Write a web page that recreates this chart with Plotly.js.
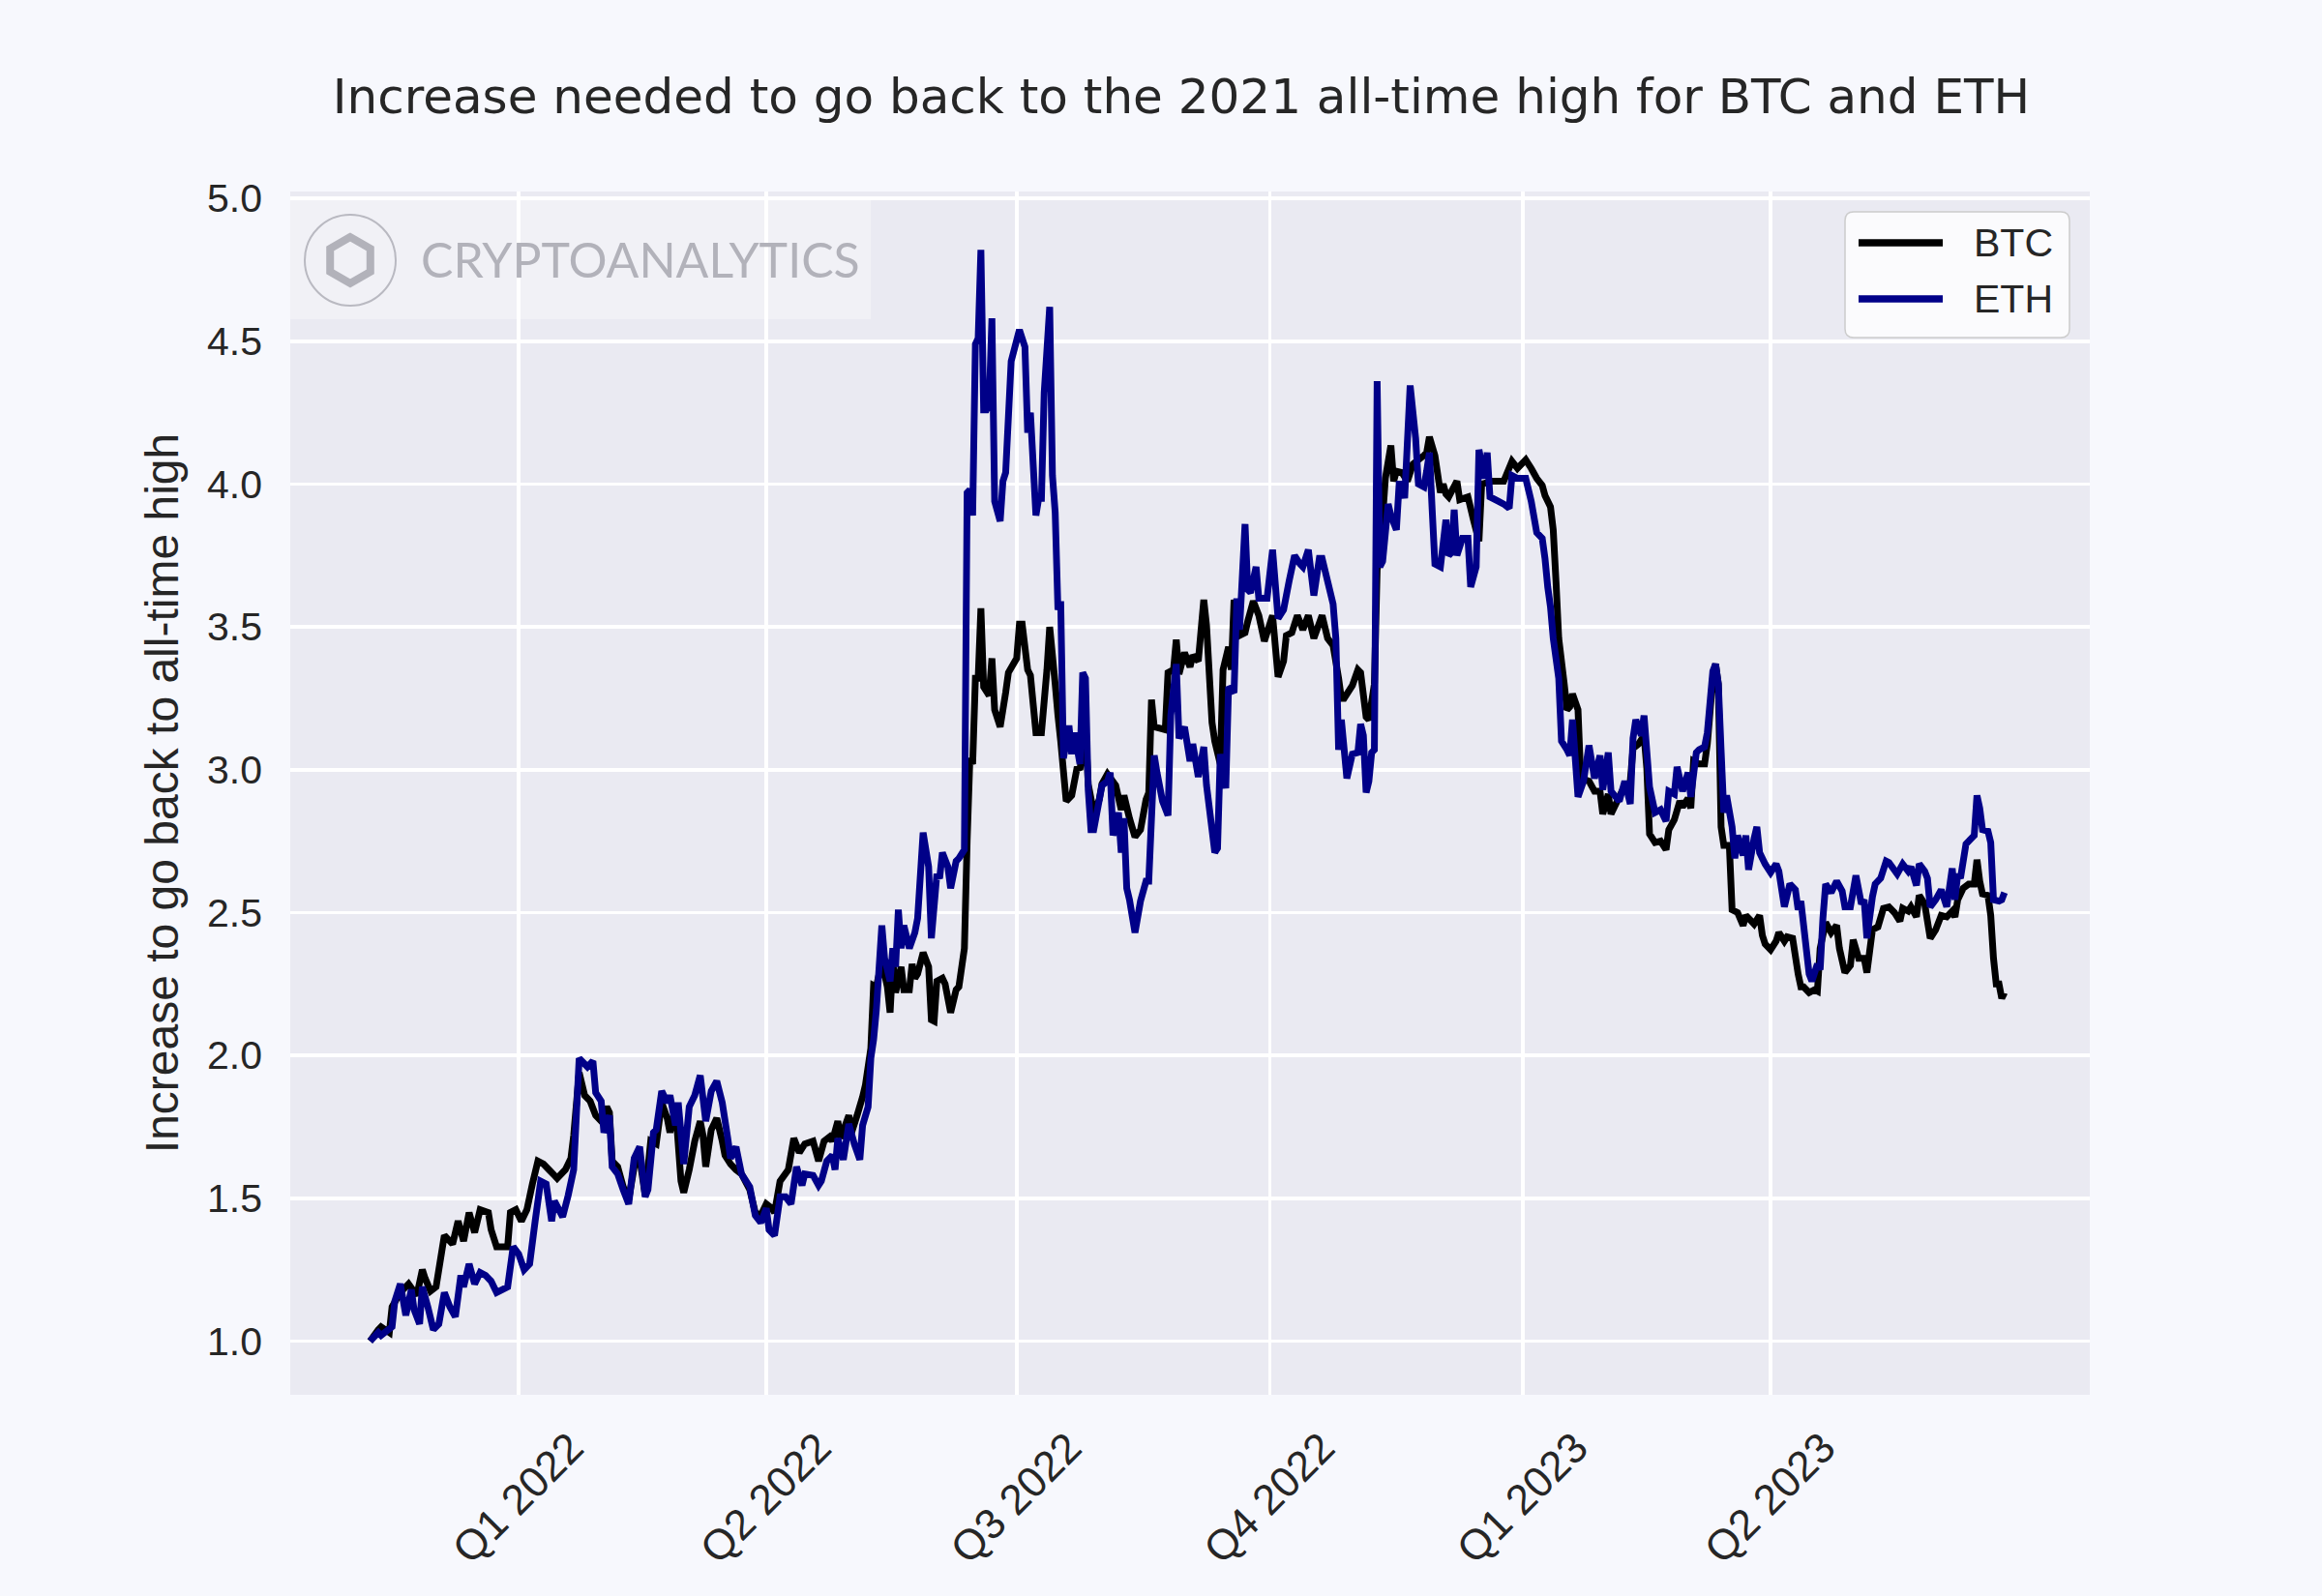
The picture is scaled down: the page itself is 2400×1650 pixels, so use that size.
<!DOCTYPE html>
<html>
<head>
<meta charset="utf-8">
<title>BTC / ETH - increase needed to reach the 2021 ATH</title>
<script src="https://cdn.plot.ly/plotly-3.0.1.min.js"></script>
<style>
    html, body { margin: 0; padding: 0; background: #f7f8fd; }
    #grafico-ath { width: 2400px; height: 1650px; }
</style>
</head>
<body>
<div id="grafico-ath"></div>
<script>
// ============================================
// DATA
// ============================================
const quarterTicks = ['2022-01-01', '2022-04-01', '2022-07-01', '2022-10-01', '2023-01-01', '2023-04-01'];
const quarterLabels = ['Q1 2022', 'Q2 2022', 'Q3 2022', 'Q4 2022', 'Q1 2023', 'Q2 2023'];

const btcDates = [
    '2021-11-08','2021-11-11','2021-11-12','2021-11-15','2021-11-16','2021-11-19','2021-11-22','2021-11-25','2021-11-27','2021-11-28','2021-11-30',
    '2021-12-02','2021-12-05','2021-12-08','2021-12-10','2021-12-12','2021-12-14','2021-12-16','2021-12-18','2021-12-21','2021-12-22','2021-12-24','2021-12-28','2021-12-29','2021-12-31',
    '2022-01-02','2022-01-04','2022-01-06','2022-01-08','2022-01-10','2022-01-12','2022-01-14','2022-01-15','2022-01-18','2022-01-20','2022-01-21','2022-01-23','2022-01-25','2022-01-27','2022-01-29','2022-01-31',
    '2022-02-02','2022-02-03','2022-02-04','2022-02-06','2022-02-08','2022-02-10','2022-02-12','2022-02-14','2022-02-16','2022-02-18','2022-02-20','2022-02-22','2022-02-24','2022-02-25','2022-02-27',
    '2022-03-01','2022-03-02','2022-03-04','2022-03-06','2022-03-08','2022-03-09','2022-03-10','2022-03-12','2022-03-14','2022-03-16','2022-03-17','2022-03-19','2022-03-21','2022-03-23','2022-03-26','2022-03-28','2022-03-30',
    '2022-04-01','2022-04-03','2022-04-04','2022-04-06','2022-04-09','2022-04-11','2022-04-13','2022-04-15','2022-04-18','2022-04-20','2022-04-22','2022-04-24','2022-04-25','2022-04-27','2022-04-28',
    '2022-05-01','2022-05-02','2022-05-04','2022-05-06','2022-05-07','2022-05-09','2022-05-10','2022-05-11','2022-05-13','2022-05-15','2022-05-16','2022-05-17','2022-05-18','2022-05-20','2022-05-21','2022-05-23','2022-05-24','2022-05-25','2022-05-26','2022-05-28','2022-05-30','2022-05-31',
    '2022-06-01','2022-06-02','2022-06-04','2022-06-05','2022-06-07','2022-06-09','2022-06-10','2022-06-12','2022-06-13','2022-06-14','2022-06-15','2022-06-16','2022-06-17','2022-06-18','2022-06-19','2022-06-21','2022-06-22','2022-06-23','2022-06-25','2022-06-27','2022-06-28',
    '2022-07-01','2022-07-02','2022-07-03','2022-07-05','2022-07-06','2022-07-08','2022-07-10','2022-07-12','2022-07-13','2022-07-14','2022-07-15','2022-07-16','2022-07-17','2022-07-19','2022-07-21','2022-07-23','2022-07-24','2022-07-26','2022-07-27','2022-07-29','2022-07-31',
    '2022-08-01','2022-08-03','2022-08-06','2022-08-08','2022-08-09','2022-08-11','2022-08-13','2022-08-15','2022-08-17','2022-08-18','2022-08-19','2022-08-20','2022-08-22','2022-08-24','2022-08-25','2022-08-27','2022-08-28','2022-08-29','2022-08-31',
    '2022-09-02','2022-09-03','2022-09-05','2022-09-07','2022-09-08','2022-09-10','2022-09-11','2022-09-13','2022-09-14','2022-09-16','2022-09-17','2022-09-18','2022-09-20','2022-09-22','2022-09-23','2022-09-25','2022-09-27','2022-09-29',
    '2022-10-02','2022-10-04','2022-10-06','2022-10-07','2022-10-09','2022-10-11','2022-10-13','2022-10-15','2022-10-17','2022-10-20','2022-10-22','2022-10-24','2022-10-26','2022-10-27','2022-10-28','2022-10-31',
    '2022-11-02','2022-11-03','2022-11-05','2022-11-06','2022-11-08','2022-11-09','2022-11-10','2022-11-12','2022-11-14','2022-11-15','2022-11-16','2022-11-18','2022-11-20','2022-11-22','2022-11-26','2022-11-27','2022-11-28','2022-11-30',
    '2022-12-02','2022-12-03','2022-12-04','2022-12-05','2022-12-08','2022-12-09','2022-12-12','2022-12-14','2022-12-16','2022-12-17','2022-12-21','2022-12-25','2022-12-28','2022-12-30',
    '2023-01-02','2023-01-04','2023-01-06','2023-01-08','2023-01-09','2023-01-11','2023-01-12','2023-01-13','2023-01-14','2023-01-16','2023-01-17','2023-01-18','2023-01-19','2023-01-21','2023-01-22','2023-01-25','2023-01-27','2023-01-29','2023-01-30',
    '2023-02-01','2023-02-02','2023-02-04','2023-02-06','2023-02-09','2023-02-10','2023-02-12','2023-02-14','2023-02-15','2023-02-16','2023-02-18','2023-02-20','2023-02-22','2023-02-23','2023-02-25','2023-02-27','2023-02-28',
    '2023-03-02','2023-03-03','2023-03-04','2023-03-06','2023-03-08','2023-03-09','2023-03-11','2023-03-12','2023-03-13','2023-03-14','2023-03-15','2023-03-17','2023-03-18','2023-03-20','2023-03-22','2023-03-23','2023-03-26','2023-03-28','2023-03-29','2023-03-30',
    '2023-04-01','2023-04-03','2023-04-04','2023-04-06','2023-04-07','2023-04-09','2023-04-11','2023-04-12','2023-04-13','2023-04-15','2023-04-17','2023-04-18','2023-04-19','2023-04-21','2023-04-23','2023-04-25','2023-04-26','2023-04-28','2023-04-30',
    '2023-05-01','2023-05-03','2023-05-05','2023-05-06','2023-05-08','2023-05-10','2023-05-12','2023-05-14','2023-05-16','2023-05-18','2023-05-19','2023-05-21','2023-05-22','2023-05-24','2023-05-25','2023-05-27','2023-05-29','2023-05-31',
    '2023-06-02','2023-06-04','2023-06-06','2023-06-07','2023-06-08','2023-06-10','2023-06-12','2023-06-14','2023-06-15','2023-06-16','2023-06-17','2023-06-19','2023-06-20','2023-06-21','2023-06-22','2023-06-23','2023-06-24','2023-06-25'
];
const btcValues = [
    1.00,1.04,1.05,1.03,1.12,1.17,1.20,1.16,1.25,1.22,1.175,
    1.19,1.37,1.34,1.42,1.35,1.45,1.38,1.46,1.45,1.39,1.33,1.33,1.45,1.46,
    1.42,1.46,1.55,1.63,1.62,1.60,1.58,1.57,1.60,1.64,1.72,1.94,1.86,1.84,1.79,1.77,
    1.82,1.80,1.63,1.61,1.54,1.495,1.61,1.64,1.51,1.70,1.69,1.835,1.78,1.73,1.82,
    1.56,1.52,1.60,1.70,1.77,1.72,1.61,1.74,1.78,1.70,1.65,1.62,1.60,1.585,1.53,1.45,1.44,
    1.48,1.465,1.45,1.56,1.60,1.71,1.66,1.69,1.70,1.63,1.70,1.715,1.70,1.77,1.71,
    1.79,1.73,1.79,1.855,1.895,2.025,2.245,2.24,2.33,2.24,2.15,2.33,2.22,2.31,2.23,2.23,2.32,2.27,2.285,2.36,2.31,2.125,
    2.12,2.26,2.27,2.25,2.15,2.23,2.24,2.375,2.75,3.04,3.02,3.32,3.32,3.565,3.29,3.26,3.39,3.21,3.15,3.27,3.34,
    3.39,3.51,3.51,3.35,3.33,3.13,3.13,3.35,3.50,3.40,3.30,3.19,3.10,2.89,2.91,3.01,3.00,3.15,2.95,2.85,2.895,
    2.95,2.985,2.945,2.86,2.91,2.83,2.765,2.79,2.895,2.92,3.245,3.15,3.145,3.14,3.34,3.35,3.455,3.335,3.41,
    3.36,3.40,3.38,3.595,3.505,3.165,3.10,3.02,3.35,3.43,3.35,3.595,3.47,3.48,3.52,3.59,3.54,3.45,
    3.54,3.325,3.38,3.47,3.48,3.54,3.49,3.54,3.46,3.54,3.46,3.435,3.32,3.25,3.25,3.295,
    3.35,3.34,3.185,3.175,3.30,3.70,3.75,4.02,4.135,4.01,4.045,4.04,4.01,4.07,4.10,4.11,4.165,4.10,
    3.97,4.00,3.965,3.955,4.01,3.945,3.955,3.875,3.80,4.00,4.01,4.01,4.08,4.055,
    4.085,4.055,4.02,3.995,3.96,3.92,3.84,3.66,3.46,3.30,3.21,3.22,3.265,3.21,2.97,2.96,2.925,2.925,2.845,
    2.915,2.845,2.885,2.925,2.96,3.075,3.09,3.12,3.005,2.775,2.745,2.75,2.72,2.79,2.825,2.89,2.87,
    2.90,2.865,3.03,3.02,3.02,3.09,3.32,3.37,3.30,2.80,2.735,2.735,2.51,2.50,2.455,2.49,2.46,2.49,2.42,2.39,
    2.37,2.40,2.43,2.40,2.415,2.41,2.285,2.24,2.24,2.22,2.23,2.225,2.375,2.465,2.43,2.455,2.375,2.29,2.315,
    2.405,2.34,2.34,2.29,2.44,2.45,2.515,2.52,2.50,2.47,2.515,2.505,2.52,2.485,2.56,2.53,2.41,2.44,
    2.49,2.485,2.505,2.485,2.545,2.585,2.60,2.60,2.685,2.61,2.565,2.56,2.49,2.34,2.25,2.25,2.20,2.22
];

const ethDates = [
    '2021-11-08','2021-11-11','2021-11-12','2021-11-16','2021-11-17','2021-11-19','2021-11-21','2021-11-23','2021-11-24','2021-11-26','2021-11-27','2021-11-29',
    '2021-12-01','2021-12-03','2021-12-05','2021-12-07','2021-12-09','2021-12-11','2021-12-12','2021-12-14','2021-12-16','2021-12-18','2021-12-20','2021-12-22','2021-12-24','2021-12-26','2021-12-28','2021-12-30',
    '2022-01-01','2022-01-03','2022-01-05','2022-01-07','2022-01-09','2022-01-11','2022-01-13','2022-01-14','2022-01-17','2022-01-19','2022-01-21','2022-01-23','2022-01-25','2022-01-26','2022-01-28','2022-01-29','2022-01-31',
    '2022-02-01','2022-02-03','2022-02-04','2022-02-06','2022-02-08','2022-02-10','2022-02-12','2022-02-14','2022-02-16','2022-02-17','2022-02-19','2022-02-20','2022-02-22','2022-02-24','2022-02-25','2022-02-27','2022-02-28',
    '2022-03-02','2022-03-04','2022-03-06','2022-03-08','2022-03-10','2022-03-12','2022-03-14','2022-03-16','2022-03-18','2022-03-19','2022-03-21','2022-03-23','2022-03-26','2022-03-28','2022-03-30',
    '2022-04-01','2022-04-02','2022-04-04','2022-04-06','2022-04-08','2022-04-10','2022-04-12','2022-04-14','2022-04-15','2022-04-18','2022-04-20','2022-04-21','2022-04-23','2022-04-25','2022-04-26','2022-04-27','2022-04-29',
    '2022-05-01','2022-05-03','2022-05-05','2022-05-06','2022-05-08','2022-05-09','2022-05-10','2022-05-11','2022-05-13','2022-05-14','2022-05-16','2022-05-17','2022-05-18','2022-05-19','2022-05-20','2022-05-21','2022-05-23','2022-05-25','2022-05-26','2022-05-28','2022-05-30','2022-05-31',
    '2022-06-02','2022-06-03','2022-06-04','2022-06-06','2022-06-07','2022-06-09','2022-06-10','2022-06-12','2022-06-13','2022-06-14','2022-06-15','2022-06-16','2022-06-17','2022-06-18','2022-06-19','2022-06-20','2022-06-21','2022-06-22','2022-06-23','2022-06-25','2022-06-26','2022-06-27','2022-06-29',
    '2022-07-02','2022-07-03','2022-07-04','2022-07-05','2022-07-06','2022-07-08','2022-07-09','2022-07-10','2022-07-11','2022-07-13','2022-07-14','2022-07-15','2022-07-16','2022-07-17','2022-07-18','2022-07-20','2022-07-21','2022-07-22','2022-07-24','2022-07-25','2022-07-26','2022-07-27','2022-07-28','2022-07-29',
    '2022-08-01','2022-08-03','2022-08-04','2022-08-05','2022-08-07','2022-08-08','2022-08-09','2022-08-10','2022-08-11','2022-08-13','2022-08-15','2022-08-17','2022-08-18','2022-08-20','2022-08-21','2022-08-23','2022-08-25','2022-08-26','2022-08-28','2022-08-29','2022-08-31',
    '2022-09-02','2022-09-03','2022-09-05','2022-09-07','2022-09-08','2022-09-10','2022-09-11','2022-09-12','2022-09-13','2022-09-15','2022-09-16','2022-09-18','2022-09-19','2022-09-20','2022-09-22','2022-09-23','2022-09-24','2022-09-26','2022-09-27','2022-09-30',
    '2022-10-02','2022-10-04','2022-10-06','2022-10-08','2022-10-10','2022-10-12','2022-10-13','2022-10-15','2022-10-17','2022-10-19','2022-10-20','2022-10-22','2022-10-24','2022-10-25','2022-10-26','2022-10-27','2022-10-29','2022-10-31',
    '2022-11-02','2022-11-03','2022-11-04','2022-11-05','2022-11-06','2022-11-07','2022-11-08','2022-11-09','2022-11-10','2022-11-11','2022-11-13','2022-11-14','2022-11-16','2022-11-17','2022-11-18','2022-11-19','2022-11-21','2022-11-23','2022-11-24','2022-11-26','2022-11-27','2022-11-28','2022-11-29','2022-11-30',
    '2022-12-02','2022-12-04','2022-12-05','2022-12-06','2022-12-07','2022-12-08','2022-12-10','2022-12-12','2022-12-13','2022-12-15','2022-12-16','2022-12-18','2022-12-19','2022-12-20','2022-12-23','2022-12-25','2022-12-27','2022-12-28','2022-12-30',
    '2023-01-02','2023-01-03','2023-01-04','2023-01-06','2023-01-08','2023-01-09','2023-01-10','2023-01-11','2023-01-12','2023-01-14','2023-01-15','2023-01-17','2023-01-18','2023-01-19','2023-01-21','2023-01-23','2023-01-25','2023-01-27','2023-01-29','2023-01-30',
    '2023-02-01','2023-02-02','2023-02-05','2023-02-07','2023-02-09','2023-02-10','2023-02-11','2023-02-13','2023-02-14','2023-02-16','2023-02-18','2023-02-20','2023-02-22','2023-02-23','2023-02-25','2023-02-26','2023-02-28',
    '2023-03-02','2023-03-03','2023-03-05','2023-03-06','2023-03-08','2023-03-09','2023-03-11','2023-03-12','2023-03-13','2023-03-14','2023-03-15','2023-03-16','2023-03-18','2023-03-19','2023-03-20','2023-03-22','2023-03-23','2023-03-24','2023-03-26','2023-03-27','2023-03-28','2023-03-30',
    '2023-04-01','2023-04-03','2023-04-04','2023-04-06','2023-04-08','2023-04-10','2023-04-11','2023-04-12','2023-04-15','2023-04-16','2023-04-18','2023-04-19','2023-04-20','2023-04-21','2023-04-23','2023-04-25','2023-04-27','2023-04-28','2023-04-30',
    '2023-05-02','2023-05-04','2023-05-05','2023-05-06','2023-05-08','2023-05-09','2023-05-11','2023-05-13','2023-05-14','2023-05-17','2023-05-19','2023-05-21','2023-05-22','2023-05-24','2023-05-25','2023-05-27','2023-05-28','2023-05-29','2023-05-31',
    '2023-06-02','2023-06-04','2023-06-06','2023-06-07','2023-06-08','2023-06-09','2023-06-11','2023-06-13','2023-06-14','2023-06-15','2023-06-16','2023-06-17','2023-06-19','2023-06-20','2023-06-21','2023-06-23','2023-06-24','2023-06-25'
];
const ethValues = [
    1.00,1.03,1.02,1.05,1.14,1.20,1.09,1.18,1.11,1.06,1.19,1.12,
    1.04,1.06,1.17,1.12,1.085,1.23,1.19,1.27,1.20,1.24,1.23,1.21,1.17,1.18,1.19,1.33,
    1.305,1.25,1.27,1.42,1.56,1.55,1.42,1.49,1.435,1.51,1.60,1.99,1.97,1.96,1.98,1.87,1.84,
    1.73,1.79,1.61,1.585,1.53,1.48,1.64,1.68,1.505,1.53,1.73,1.74,1.875,1.835,1.86,1.755,1.835,
    1.62,1.82,1.86,1.93,1.77,1.875,1.91,1.835,1.71,1.64,1.68,1.585,1.54,1.44,1.415,
    1.465,1.39,1.37,1.505,1.505,1.48,1.61,1.545,1.585,1.58,1.545,1.56,1.63,1.65,1.60,1.71,1.635,
    1.76,1.69,1.635,1.755,1.82,1.99,2.055,2.16,2.455,2.34,2.26,2.375,2.31,2.51,2.375,2.455,2.375,2.43,2.48,2.78,2.66,2.41,
    2.635,2.62,2.71,2.66,2.585,2.68,2.69,2.72,3.97,3.98,3.89,4.49,4.51,4.82,4.26,4.26,4.28,4.58,3.94,3.87,4.01,4.04,4.43,
    4.54,4.51,4.48,4.18,4.25,3.89,3.95,3.95,4.32,4.62,4.03,3.90,3.56,3.59,3.04,3.155,3.055,3.13,3.02,3.34,3.32,2.93,2.79,2.79,
    2.945,2.96,2.99,2.77,2.85,2.71,2.83,2.585,2.545,2.43,2.54,2.61,2.61,3.05,2.99,2.89,2.84,3.19,3.37,3.11,3.15,
    3.03,3.09,2.975,3.08,2.945,2.79,2.71,2.725,3.055,2.935,3.29,3.27,3.60,3.49,3.86,3.63,3.62,3.71,3.60,3.60,
    3.77,3.53,3.56,3.66,3.75,3.72,3.71,3.77,3.61,3.74,3.74,3.66,3.58,3.46,3.07,3.175,2.97,3.055,
    3.06,3.16,3.12,2.92,2.96,3.06,3.07,4.36,3.71,3.73,3.93,3.89,3.84,4.00,4.00,3.95,4.345,4.16,4.00,3.99,4.045,4.11,3.91,3.72,
    3.71,3.875,3.75,3.76,3.91,3.75,3.81,3.81,3.64,3.71,4.12,4.02,4.11,3.955,3.94,3.93,3.915,4.03,4.02,
    4.02,3.98,3.94,3.83,3.81,3.74,3.64,3.57,3.46,3.32,3.10,3.07,3.05,3.175,2.905,2.96,3.085,2.97,3.05,2.93,
    3.06,2.925,2.89,2.96,2.88,3.11,3.175,3.12,3.19,2.94,2.85,2.86,2.82,2.925,2.915,3.01,2.925,
    2.99,2.905,3.06,3.07,3.08,3.13,3.345,3.37,3.30,3.07,2.85,2.91,2.80,2.69,2.77,2.70,2.77,2.65,2.76,2.80,2.71,2.67,
    2.64,2.67,2.645,2.52,2.60,2.58,2.51,2.54,2.285,2.26,2.32,2.30,2.48,2.60,2.57,2.61,2.575,2.52,2.52,
    2.63,2.53,2.545,2.41,2.555,2.60,2.62,2.68,2.675,2.635,2.67,2.645,2.66,2.595,2.67,2.645,2.62,2.52,2.545,
    2.58,2.52,2.655,2.545,2.635,2.62,2.74,2.76,2.77,2.91,2.865,2.79,2.785,2.745,2.545,2.54,2.545,2.57
];

// ============================================
// LAYOUT HELPERS (pixel -> paper coordinates)
// ============================================
const FIG_W = 2400, FIG_H = 1650;
const M = { l: 300, r: 240, t: 198, b: 208 };
const PLOT_W = FIG_W - M.l - M.r;
const PLOT_H = FIG_H - M.t - M.b;
const px = x => (x - M.l) / PLOT_W;
const py = y => (FIG_H - M.b - y) / PLOT_H;

function roundedRect(x0, y0, x1, y1, r) {
    // pixel box -> paper path with rounded corners
    const a = px(x0), b = px(x1), top = py(y0), bot = py(y1);
    const rx = r / PLOT_W, ry = r / PLOT_H;
    return `M${a + rx},${bot} L${b - rx},${bot} Q${b},${bot} ${b},${bot + ry} ` +
           `L${b},${top - ry} Q${b},${top} ${b - rx},${top} L${a + rx},${top} ` +
           `Q${a},${top} ${a},${top - ry} L${a},${bot + ry} Q${a},${bot} ${a + rx},${bot} Z`;
}

function hexagonPath(cx, cy, r) {
    let path = '';
    for (let k = 0; k < 6; k++) {
        const ang = Math.PI / 2 + k * Math.PI / 3;
        const x = px(cx + r * Math.cos(ang));
        const y = py(cy - r * Math.sin(ang));
        path += (k === 0 ? 'M' : 'L') + x + ',' + y + ' ';
    }
    return path + 'Z';
}

function renderChart() {
    const container = document.getElementById('grafico-ath');
    const textColor = '#262626';
    const btcColor = '#000000';
    const ethColor = '#000088';

    const traces = [
        {
            x: btcDates, y: btcValues, name: 'BTC',
            type: 'scatter', mode: 'lines',
            line: { color: btcColor, width: 7, simplify: false },
            hovertemplate: 'BTC: %{y:.2f}<extra></extra>'
        },
        {
            x: ethDates, y: ethValues, name: 'ETH',
            type: 'scatter', mode: 'lines',
            line: { color: ethColor, width: 7, simplify: false },
            hovertemplate: 'ETH: %{y:.2f}<extra></extra>'
        }
    ];

    const shapes = [
        // watermark panel
        { type: 'rect', xref: 'paper', yref: 'paper', layer: 'below',
          x0: px(300), x1: px(900), y0: py(330), y1: py(207),
          fillcolor: 'rgba(255,255,255,0.35)', line: { width: 0 } },
        { type: 'circle', xref: 'paper', yref: 'paper',
          x0: px(315), x1: px(409), y0: py(316), y1: py(222),
          line: { color: '#b9b9c1', width: 2 } },
        { type: 'path', xref: 'paper', yref: 'paper',
          path: hexagonPath(362, 269, 24),
          line: { color: '#b2b2ba', width: 8 } },
        // legend box
        { type: 'path', xref: 'paper', yref: 'paper',
          path: roundedRect(1907, 219, 2139, 349, 9),
          fillcolor: 'rgba(255,255,255,0.8)', line: { color: '#cccccc', width: 1.5 } },
        { type: 'line', xref: 'paper', yref: 'paper',
          x0: px(1921), x1: px(2008), y0: py(251), y1: py(251),
          line: { color: btcColor, width: 7.5 } },
        { type: 'line', xref: 'paper', yref: 'paper',
          x0: px(1921), x1: px(2008), y0: py(309), y1: py(309),
          line: { color: ethColor, width: 7.5 } }
    ];

    const annotations = [
        { text: 'CRYPTOANALYTICS', xref: 'paper', yref: 'paper', x: px(662), y: py(268),
          xanchor: 'center', yanchor: 'middle', showarrow: false,
          font: { family: 'Lato, "Open Sans", sans-serif', size: 50, color: '#b2b2ba' } },
        { text: 'BTC', xref: 'paper', yref: 'paper', x: px(2038), y: py(251),
          xanchor: 'left', yanchor: 'middle', showarrow: false,
          font: { size: 41, color: textColor } },
        { text: 'ETH', xref: 'paper', yref: 'paper', x: px(2038), y: py(309),
          xanchor: 'left', yanchor: 'middle', showarrow: false,
          font: { size: 41, color: textColor } }
    ];

    const layout = {
        width: FIG_W,
        height: FIG_H,
        autosize: false,
        paper_bgcolor: '#f7f8fd',
        plot_bgcolor: '#eaeaf2',
        font: { family: '"Liberation Sans", Arial, sans-serif', size: 41, color: textColor },
        margin: M,
        showlegend: false,
        title: {
            text: 'Increase needed to go back to the 2021 all-time high for BTC and ETH',
            font: { family: '"DejaVu Sans", sans-serif', size: 50, color: textColor },
            x: 1221 / FIG_W,
            xref: 'container', xanchor: 'center',
            y: 1 - 99 / FIG_H, yref: 'container', yanchor: 'middle'
        },
        xaxis: {
            type: 'date',
            range: ['2021-10-10', '2023-07-26'],
            tickmode: 'array',
            tickvals: quarterTicks,
            ticktext: quarterLabels,
            tickangle: -45,
            tickfont: { size: 44 },
            ticklabelshift: 54,
            ticklabelstandoff: 19,
            ticks: '',
            showgrid: true,
            gridcolor: '#ffffff',
            gridwidth: 3.5,
            zeroline: false,
            showline: false
        },
        yaxis: {
            range: [0.812, 5.024],
            tick0: 0,
            dtick: 0.5,
            tickformat: '.1f',
            ticks: '',
            ticklabelstandoff: 28,
            showgrid: true,
            gridcolor: '#ffffff',
            gridwidth: 3.5,
            zeroline: false,
            showline: false,
            title: {
                text: 'Increase to go back to all-time high',
                font: { size: 48, color: textColor },
                standoff: 14
            }
        },
        shapes: shapes,
        annotations: annotations,
        hovermode: 'x unified'
    };

    Plotly.newPlot(container, traces, layout, { displayModeBar: false, staticPlot: true });
}

document.addEventListener('DOMContentLoaded', () => {
    renderChart();
});
</script>
</body>
</html>
